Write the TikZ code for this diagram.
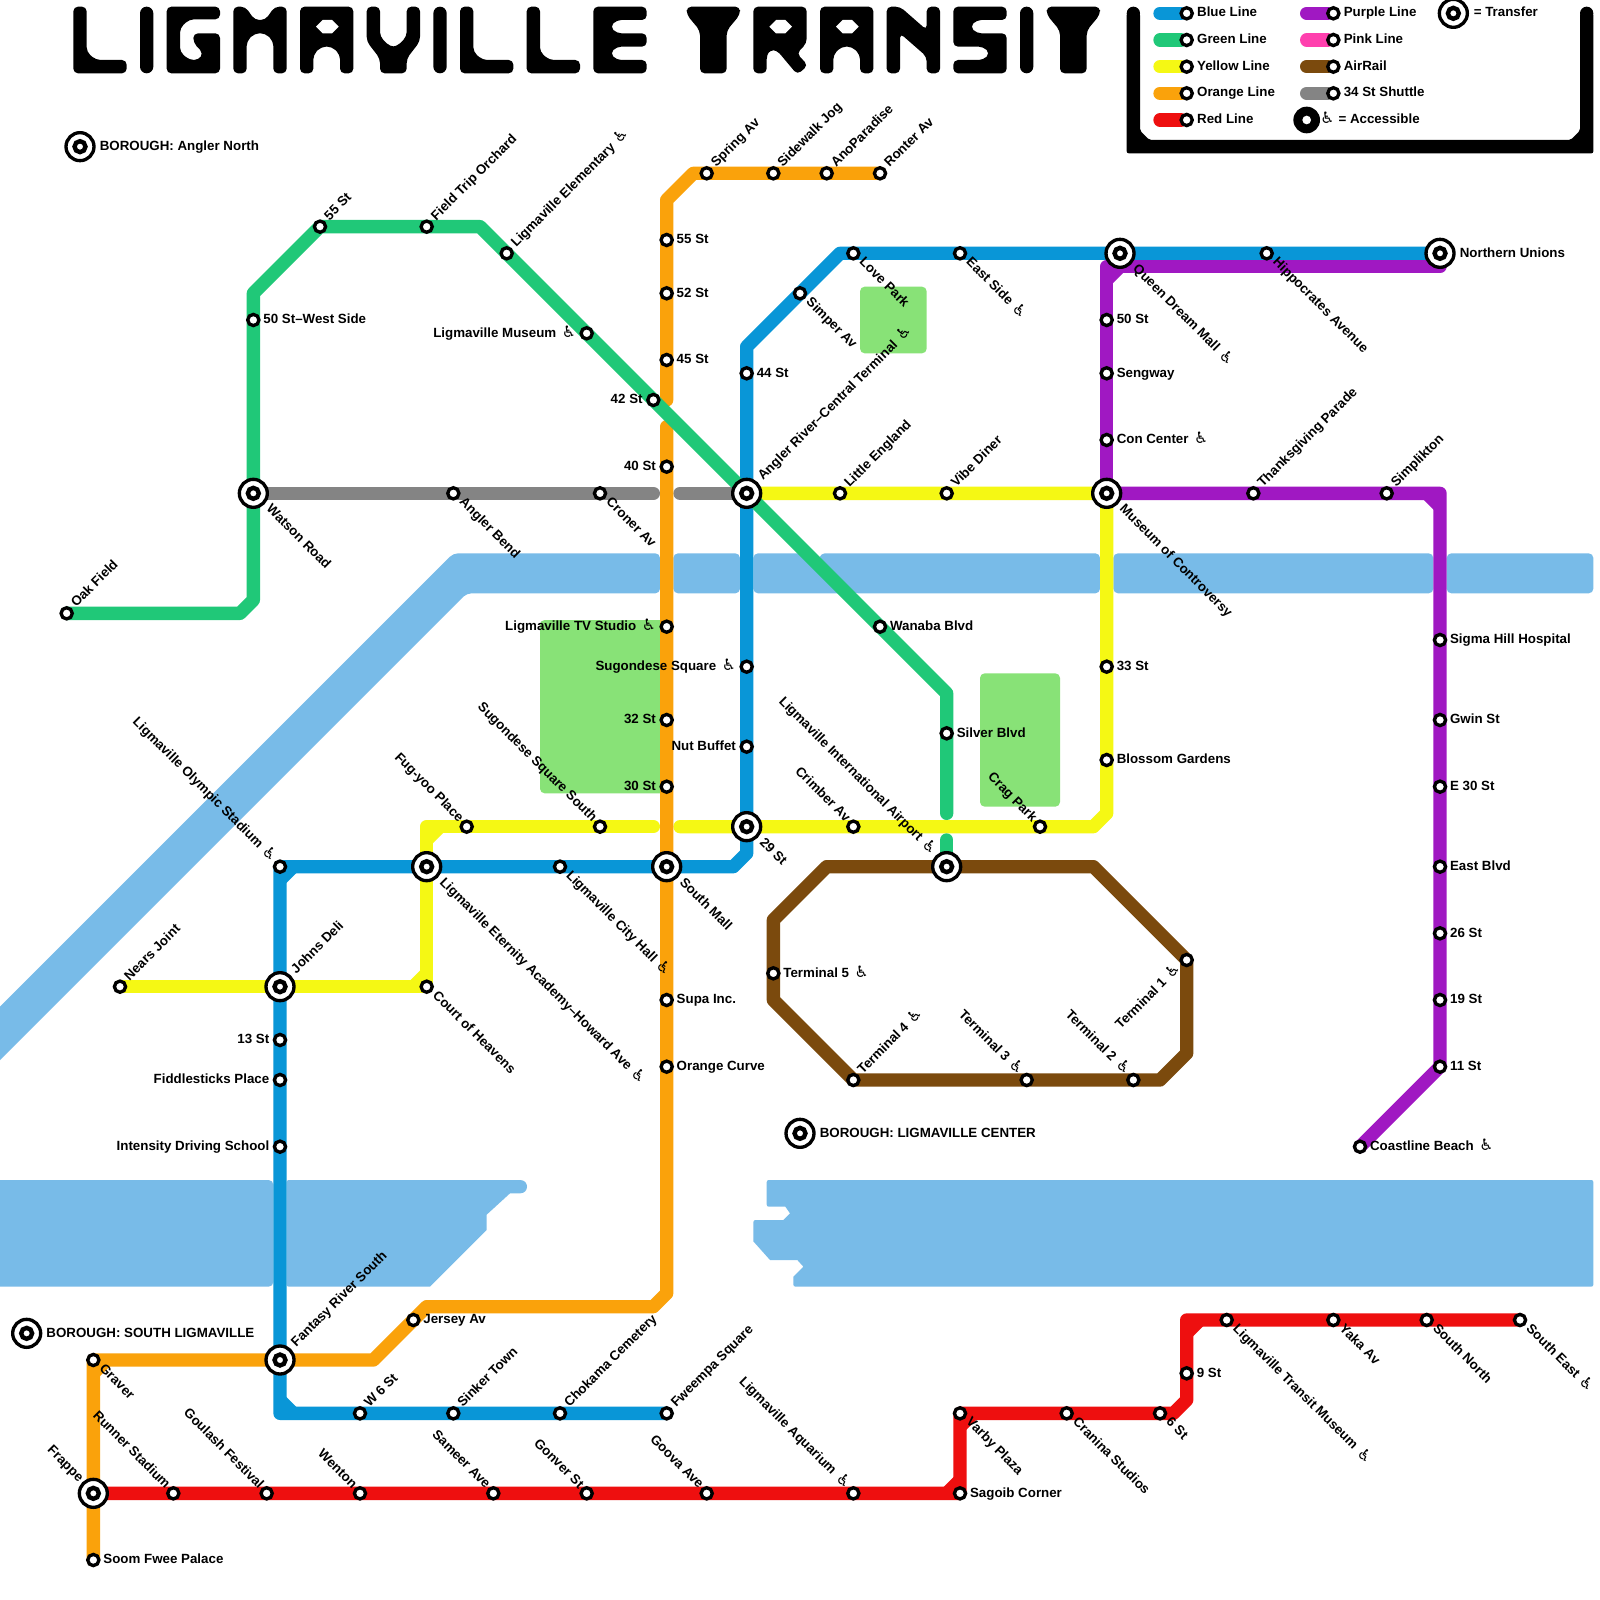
\documentclass[tikz,border=0pt]{standalone}
\usepackage{fontspec}
\setmainfont{Liberation Sans}
\newfontfamily\dvfont{DejaVu Sans}
\usetikzlibrary{calc}
\pgfdeclarelayer{under}\pgfdeclarelayer{rails}
\pgfsetlayers{under,rails,main}
\definecolor{cblue}{HTML}{0996D7}
\definecolor{cgreen}{HTML}{20C878}
\definecolor{cyellow}{HTML}{F5F814}
\definecolor{corange}{HTML}{FAA20B}
\definecolor{cred}{HTML}{EE0F0F}
\definecolor{cpurple}{HTML}{A018C2}
\definecolor{cpink}{HTML}{FF40AE}
\definecolor{cbrown}{HTML}{7B4A0D}
\definecolor{cgrey}{HTML}{848484}
\definecolor{cwater}{HTML}{78BBE8}
\definecolor{cpark}{HTML}{88E277}
\tikzset{
  rail/.style={line width=.2cm,line cap=round,line join=round},
  railb/.style={rail,cblue},railg/.style={rail,cgreen},raily/.style={rail,cyellow},
  railo/.style={rail,corange},railr/.style={rail,cred},railp/.style={rail,cpurple},
  railn/.style={rail,cbrown},railk/.style={rail,cgrey},railh/.style={rail,cpink},
  water/.style={fill=cwater,rounded corners=.07cm},
  waterplain/.style={fill=cwater},
  park/.style={fill=cpark,rounded corners=.07cm},
  ink/.style={fill=black,rounded corners=.07cm},
  hole/.style={fill=white},
  stopdot/.style={circle,draw=black,fill=white,line width=.05cm,minimum size=.168cm,inner sep=0pt,outer sep=0pt},
  trbig/.style={circle,draw=black,fill=white,line width=.05cm,minimum size=.42cm,inner sep=0pt,outer sep=0pt},
  trsmall/.style={circle,draw=black,fill=white,line width=.066cm,minimum size=.164cm,inner sep=0pt,outer sep=0pt},
  txt/.style={inner sep=0pt,font=\fontsize{5.69pt}{6.8pt}\selectfont\bfseries,text=black},
  R/.style={txt,shift={(0:#1)},xshift=-.01cm,yshift=.037cm,anchor=mid west},
  L/.style={txt,shift={(180:#1)},yshift=.037cm,anchor=mid east},
  UR/.style={txt,shift={(45:#1)},rotate=45,yshift=.05cm,anchor=mid west},
  DR/.style={txt,shift={(-45:#1)},rotate=-45,yshift=.05cm,anchor=mid west},
  UL/.style={txt,shift={(135:#1)},rotate=-45,yshift=.05cm,xshift=.03cm,anchor=mid east},
  DL/.style={txt,shift={(225:#1)},rotate=45,yshift=.05cm,anchor=mid east},
}
\newcommand\acc{\hspace{.42em}{\dvfont\bfseries\fontsize{6.7pt}{7pt}\selectfont ♿}}
\newcommand\mystop[5]{\node[stopdot] (#1) at (#2,#3) {}; \node[#4=.154cm] (#1-t) at (#1.center) {#5};}
\newcommand\mytrans[5]{\node[trbig] (#1) at (#2,#3) {}; \node[trsmall] (#1-i) at (#1.center) {}; \node[#4=.3cm] (#1-t) at (#1.center) {#5};}
\newcommand\inchamf[4]{\draw[#1,line cap=butt] ($(#2)!.2cm!(#3)$) -- ($(#2)!.2cm!(#4)$);}
\newcommand\glL[1]{\fill[ink,shift={(#1,.5)}] (0,0)--(1,0)--(1,3.4)--(1.7,4)--(4,4)--(4,5)--(0,5)--cycle;}
\newcommand\glI[1]{\fill[ink,rounded corners=.1cm,shift={(#1,.5)}] (0,0)--(1,0)--(1,5)--(0,5)--cycle;}
\newcommand\glG[1]{\fill[ink,shift={(#1,.5)}] (0,0)--(4,0)--(4,.95)--(1.7,.95)--(1,1.6)--(1,3.4)--(1.7,4)--(2.4,4)--(2.75,3.5)--(2,2.7)--(2,2)--(4,2)--(4,5)--(0,5)--cycle;}
\newcommand\glM[1]{\fill[ink,shift={(#1,.5)}] (0,0)--(.9,0)--(1.6,1)--(2.4,1)--(3.1,0)--(4,0)--(4,5)--(3,5)--(3,2.6)--(2.4,2)--(1.6,2)--(1,2.6)--(1,5)--(0,5)--cycle;}
\newcommand\glA[1]{\fill[ink,shift={(#1,.5)}] (0,0)--(4,0)--(4,5)--(3,5)--(3,3.6)--(2.4,3)--(1.6,3)--(1,3.6)--(1,5)--(0,5)--cycle;
  \fill[hole,shift={(#1,.5)}] (1.2,1.5)--(1.7,1)--(2.4,1)--(2.9,1.5)--(2.4,2)--(1.7,2)--cycle;}
\newcommand\glV[1]{\fill[ink,shift={(#1,.5)}] (0,0)--(1,0)--(1,2.25)--(1.75,3)--(2.25,3)--(3,2.25)--(3,0)--(4,0)--(4,2.6)--(3,3.9)--(3,5)--(1,5)--(1,3.9)--(0,2.6)--cycle;}
\newcommand\glE[1]{\fill[ink,shift={(#1,.5)}] (0,0)--(4,0)--(4,1)--(1.75,1)--(1.25,1.5)--(1.75,2)--(4,2)--(4,3)--(1.75,3)--(1.25,3.5)--(1.75,4)--(4,4)--(4,5)--(0,5)--cycle;}
\newcommand\glT[1]{\fill[ink,shift={(#1,.5)}] (0,0)--(4,0)--(4,.6)--(3,1.8)--(3,5)--(1,5)--(1,1.8)--(0,.6)--cycle;}
\newcommand\glR[1]{\fill[ink,shift={(#1,.5)}] (0,0)--(4,0)--(4,2.75)--(3.25,3.5)--(4.1,4.4)--(3.3,5.1)--(1.75,3.25)--(1.25,3.25)--(1,3.6)--(1,5)--(0,5)--cycle;
  \fill[hole,shift={(#1,.5)}] (1.2,1.5)--(1.7,1)--(2.4,1)--(2.9,1.5)--(2.4,2)--(1.7,2)--cycle;}
\newcommand\glN[1]{\fill[ink,shift={(#1,.5)}] (0,0)--(1,0)--(3,1.75)--(3,0)--(4,0)--(4,5)--(3,5)--(3,3.75)--(1,2)--(1,5)--(0,5)--cycle;}
\newcommand\glS[1]{\fill[ink,shift={(#1,.5)}] (0,0)--(4,0)--(4,1)--(1.75,1)--(1.25,1.5)--(1.75,2)--(4,2)--(4,5)--(0,5)--(0,4)--(2.25,4)--(2.75,3.5)--(2.25,3)--(0,3)--cycle;}
\begin{document}
\begin{tikzpicture}[x=.2cm,y=-.2cm]
\useasboundingbox (0,0) rectangle (120,120);
\begin{pgfonlayer}{under}
\fill[white] (0,0) rectangle (120,120);
% water
\fill[water] (-1,76.5)--(34,41.5)--(49.5,41.5)--(49.5,44.5)--(35,44.5)--(-1,80.5)--cycle;
\fill[water] (50.5,41.5) rectangle (55.5,44.5);
\fill[water] (56.5,41.5)--(60.5,41.5)--(63.5,44.5)--(56.5,44.5)--cycle;
\fill[water] (61.5,41.5)--(82.5,41.5)--(82.5,44.5)--(64,44.5)--(61.5,42)--cycle;
\fill[water] (83.5,41.5) rectangle (107.5,44.5);
\fill[water] (108.5,41.5) rectangle (119.5,44.5);
\fill[water] (-1,88.5) rectangle (20.5,96.5);
\fill[waterplain] (21.85,88.5)--(39,88.5) .. controls (39.7,88.5) and (39.7,89.5) .. (39,89.5)--(38.25,89.5)--(36.5,91.1)--(36.5,92.25)--(32.25,96.5)--(21.85,96.5) .. controls (21.5,96.5) .. (21.5,96.15)--(21.5,88.85) .. controls (21.5,88.5) .. (21.85,88.5)--cycle;
\fill[waterplain] (57.85,88.5)--(119.15,88.5) .. controls (119.5,88.5) .. (119.5,88.85)--(119.5,96.15) .. controls (119.5,96.5) .. (119.15,96.5)--(59.85,96.5) .. controls (59.5,96.5) .. (59.5,96.15)--(59.5,95.75)--(60.25,95)--(59.8,94.5)--(57.75,94.5)--(56.5,93.1)--(56.5,91.85) .. controls (56.5,91.5) .. (56.85,91.5)--(58.75,91.5)--(59.25,91)--(58.9,90.5)--(57.85,90.5) .. controls (57.5,90.5) .. (57.5,90.15)--(57.5,88.85) .. controls (57.5,88.5) .. (57.85,88.5)--cycle;
% parks
\fill[park] (64.5,21.5) rectangle (69.5,26.5);
\fill[park] (40.5,46.5) rectangle (50,59.5);
\fill[park] (73.5,50.5) rectangle (79.5,60.5);
\end{pgfonlayer}
% title
\glL{5.5}\glI{10.5}\glG{12.5}\glM{17.5}\glA{22.5}\glV{27.5}\glI{32.5}\glL{34.5}\glL{39.5}\glE{44.5}
\glT{51.5}\glR{56.5}\glA{61.5}\glN{66.5}\glS{71.5}\glI{76.5}\glT{78.5}
\node[text opacity=0,inner sep=0pt,font=\fontsize{36pt}{36pt}\selectfont\bfseries] (title) at (44,3) {LIGMAVILLE TRANSIT};
% legend frame
\fill[black,rounded corners=.03cm] (84.5,1)--(84.5,11.5)--(119.5,11.5)--(119.5,1)--(118.5,1)--(118.5,9.8)--(117.8,10.5)--(86.2,10.5)--(85.5,9.8)--(85.5,1)--cycle;
\fill[black] (85,1) circle[radius=.1cm] (119,1) circle[radius=.1cm];
% legend keys
\tikzset{keytxt/.style={txt,yshift=.04cm,anchor=mid west}}
\node[stopdot] (k1) at (89,1) {}; \coordinate (k1a) at (87,1); \node[keytxt] (k1t) at (89.75,1) {Blue Line};
\node[stopdot] (k2) at (89,3) {}; \coordinate (k2a) at (87,3); \node[keytxt] (k2t) at (89.75,3) {Green Line};
\node[stopdot] (k3) at (89,5) {}; \coordinate (k3a) at (87,5); \node[keytxt] (k3t) at (89.75,5) {Yellow Line};
\node[stopdot] (k4) at (89,7) {}; \coordinate (k4a) at (87,7); \node[keytxt] (k4t) at (89.75,7) {Orange Line};
\node[stopdot] (k5) at (89,9) {}; \coordinate (k5a) at (87,9); \node[keytxt] (k5t) at (89.75,9) {Red Line};
\node[stopdot] (k6) at (100,1) {}; \coordinate (k6a) at (98,1); \node[keytxt] (k6t) at (100.75,1) {Purple Line};
\node[stopdot] (k7) at (100,3) {}; \coordinate (k7a) at (98,3); \node[keytxt] (k7t) at (100.75,3) {Pink Line};
\node[stopdot] (k8) at (100,5) {}; \coordinate (k8a) at (98,5); \node[keytxt] (k8t) at (100.75,5) {AirRail};
\node[stopdot] (k9) at (100,7) {}; \coordinate (k9a) at (98,7); \node[keytxt] (k9t) at (100.75,7) {34 St Shuttle};
\node[trbig] (ktr) at (109,1) {}; \node[trsmall] (ktr2) at (ktr.center) {}; \node[keytxt] (ktrt) at (110.5,1) {= Transfer};
\node[circle,fill=black,minimum size=.4cm,inner sep=0pt,outer sep=0pt] (kac) at (98,9) {};
\node[circle,fill=white,minimum size=.13cm,inner sep=0pt,outer sep=0pt] (kac2) at (kac.center) {};
\node[keytxt] (kact) at (99,9) {{\dvfont\bfseries\fontsize{6.7pt}{7pt}\selectfont ♿}\hspace{.3em}= Accessible};
% boroughs
\node[trbig] (bo1) at (6,11) {}; \node[trsmall] (bo1i) at (bo1.center) {}; \node[R=.3cm] (bo1t) at (bo1.center) {BOROUGH: Angler North};
\node[trbig] (bo2) at (60,85) {}; \node[trsmall] (bo2i) at (bo2.center) {}; \node[R=.3cm] (bo2t) at (bo2.center) {BOROUGH: LIGMAVILLE CENTER};
\node[trbig] (bo3) at (2,100) {}; \node[trsmall] (bo3i) at (bo3.center) {}; \node[R=.3cm] (bo3t) at (bo3.center) {BOROUGH: SOUTH LIGMAVILLE};
% blue
\mytrans{northern}{108}{19}{R}{Northern Unions}
\mystop{hippo}{95}{19}{DR}{Hippocrates Avenue}
\mytrans{queen}{84}{19}{DR}{Queen Dream Mall\acc}
\mystop{eastside}{72}{19}{DR}{East Side\acc}
\mystop{lovepark}{64}{19}{DR}{Love Park}
\mystop{simper}{60}{22}{DR}{Simper Av}
\mystop{st44}{56}{28}{R}{44 St}
\mytrans{angler}{56}{37}{UR}{Angler River–Central Terminal\acc}
\mystop{sugon}{56}{50}{L}{Sugondese Square\acc}
\mystop{nut}{56}{56}{L}{Nut Buffet}
\mytrans{st29}{56}{62}{DR}{29 St}
\mytrans{south}{50}{65}{DR}{South Mall}
\mystop{cityhall}{42}{65}{DR}{Ligmaville City Hall\acc}
\mytrans{eternity}{32}{65}{DR}{Ligmaville Eternity Academy–Howard Ave\acc}
\mystop{olympic}{21}{65}{UL}{Ligmaville Olympic Stadium\acc}
\mytrans{johns}{21}{74}{UR}{Johns Deli}
\mystop{st13}{21}{78}{L}{13 St}
\mystop{fiddle}{21}{81}{L}{Fiddlesticks Place}
\mystop{intensity}{21}{86}{L}{Intensity Driving School}
\mytrans{fantasy}{21}{102}{UR}{Fantasy River South}
\mystop{w6}{27}{106}{UR}{W 6 St}
\mystop{sinker}{34}{106}{UR}{Sinker Town}
\mystop{chokama}{42}{106}{UR}{Chokama Cemetery}
\mystop{fweempa}{50}{106}{UR}{Fweempa Square}
% green
\mystop{oak}{5}{46}{UR}{Oak Field}
\mytrans{watson}{19}{37}{DR}{Watson Road}
\mystop{westside}{19}{24}{R}{50 St–West Side}
\mystop{st55w}{24}{17}{UR}{55 St}
\mystop{orchard}{32}{17}{UR}{Field Trip Orchard}
\mystop{element}{38}{19}{UR}{Ligmaville Elementary\acc}
\mystop{museum}{44}{25}{L}{Ligmaville Museum\acc}
\mystop{st42}{49}{30}{L}{42 St}
\mystop{wanaba}{66}{47}{R}{Wanaba Blvd}
\mystop{silver}{71}{55}{R}{Silver Blvd}
\mytrans{airport}{71}{65}{UL}{Ligmaville International Airport\acc}
% yellow
\mystop{nears}{9}{74}{UR}{Nears Joint}
\mystop{heavens}{32}{74}{DR}{Court of Heavens}
\mystop{fugyoo}{35}{62}{UL}{Fug-yoo Place}
\mystop{sugsouth}{45}{62}{UL}{Sugondese Square South}
\mystop{crimber}{64}{62}{UL}{Crimber Av}
\mystop{crag}{78}{62}{UL}{Crag Park}
\mystop{blossom}{83}{57}{R}{Blossom Gardens}
\mystop{st33}{83}{50}{R}{33 St}
\mytrans{controversy}{83}{37}{DR}{Museum of Controversy}
\mystop{vibe}{71}{37}{UR}{Vibe Diner}
\mystop{england}{63}{37}{UR}{Little England}
% orange
\mystop{spring}{53}{13}{UR}{Spring Av}
\mystop{sidewalk}{58}{13}{UR}{Sidewalk Jog}
\mystop{ano}{62}{13}{UR}{AnoParadise}
\mystop{ronter}{66}{13}{UR}{Ronter Av}
\mystop{st55}{50}{18}{R}{55 St}
\mystop{st52}{50}{22}{R}{52 St}
\mystop{st45}{50}{27}{R}{45 St}
\mystop{st40}{50}{35}{L}{40 St}
\mystop{studio}{50}{47}{L}{Ligmaville TV Studio\acc}
\mystop{st32}{50}{54}{L}{32 St}
\mystop{st30}{50}{59}{L}{30 St}
\mystop{supa}{50}{75}{R}{Supa Inc.}
\mystop{curve}{50}{80}{R}{Orange Curve}
\mystop{jersey}{31}{99}{R}{Jersey Av}
\mystop{graver}{7}{102}{DR}{Graver}
\mystop{soom}{7}{117}{R}{Soom Fwee Palace}
% red
\mytrans{frappe}{7}{112}{UL}{Frappe}
\mystop{runner}{13}{112}{UL}{Runner Stadium}
\mystop{goulash}{20}{112}{UL}{Goulash Festival}
\mystop{wenton}{27}{112}{UL}{Wenton}
\mystop{sameer}{37}{112}{UL}{Sameer Ave}
\mystop{gonver}{44}{112}{UL}{Gonver St}
\mystop{goova}{53}{112}{UL}{Goova Ave}
\mystop{aquarium}{64}{112}{UL}{Ligmaville Aquarium\acc}
\mystop{sagoib}{72}{112}{R}{Sagoib Corner}
\mystop{varby}{72}{106}{DR}{Varby Plaza}
\mystop{cranina}{80}{106}{DR}{Cranina Studios}
\mystop{st6}{87}{106}{DR}{6 St}
\mystop{st9}{89}{103}{R}{9 St}
\mystop{transit}{92}{99}{DR}{Ligmaville Transit Museum\acc}
\mystop{yaka}{100}{99}{DR}{Yaka Av}
\mystop{southnorth}{107}{99}{DR}{South North}
\mystop{southeast}{114}{99}{DR}{South East\acc}
% purple
\mystop{st50}{83}{24}{R}{50 St}
\mystop{sengway}{83}{28}{R}{Sengway}
\mystop{concenter}{83}{33}{R}{Con Center\acc}
\mystop{thanks}{94}{37}{UR}{Thanksgiving Parade}
\mystop{simplik}{104}{37}{UR}{Simplikton}
\mystop{sigma}{108}{48}{R}{Sigma Hill Hospital}
\mystop{gwin}{108}{54}{R}{Gwin St}
\mystop{e30}{108}{59}{R}{E 30 St}
\mystop{eastblvd}{108}{65}{R}{East Blvd}
\mystop{st26}{108}{70}{R}{26 St}
\mystop{st19}{108}{75}{R}{19 St}
\mystop{st11}{108}{80}{R}{11 St}
\mystop{coast}{102}{86}{R}{Coastline Beach\acc}
% shuttle
\mystop{bend}{34}{37}{DR}{Angler Bend}
\mystop{croner}{45}{37}{DR}{Croner Av}
% airrail
\mystop{t5}{58}{73}{R}{Terminal 5\acc}
\mystop{t4}{64}{81}{UR}{Terminal 4\acc}
\mystop{t3}{77}{81}{UL}{Terminal 3\acc}
\mystop{t2}{85}{81}{UL}{Terminal 2\acc}
\mystop{t1}{89}{72}{DL}{Terminal 1\acc}
% bends
\foreach \n/\x/\y in {bb1/63/19,bb2/56/26,bb3/56/64,bb4/55/65,bb5/21/106,
 gb1/18/46,gb2/19/45,gb3/19/22,gb4/36/17,gb5/71/52,gb6/71/61,gb7/71/63,
 yb1/32/62,yb2/49/62,yb3/51/62,yb4/82/62,yb5/83/61,
 ob1/52/13,ob2/50/15,ob3/50/30,ob4/50/32,ob5/50/97,ob6/49/98,ob7/32/98,ob8/28/102,
 rb3/88/106,rb4/89/105,rb5/89/99,
 pb1/108/20,pb2/83/20,pb3/108/37,
 kb1/49/37,kb2/51/37,
 ab1/62/65,ab2/82/65,ab3/89/79,ab4/87/81,ab5/58/75,ab6/58/69}
  {\coordinate (\n) at (\x,\y);}
\begin{pgfonlayer}{rails}
\draw[railk] (watson.center) -- (kb1);
\draw[railk] (kb2) -- (angler.center);
\draw[railn] (ab1) -- (ab2) -- (t1.center) -- (ab3) -- (ab4) -- (t4.center) -- (ab5) -- (ab6) -- cycle;
\draw[railb] (northern.center) -- (bb1) -- (bb2) -- (bb3) -- (bb4) -- (olympic.center) -- (bb5) -- (fweempa.center);
\inchamf{railb}{olympic.center}{bb4}{bb5}
\inchamf{railb}{bb5}{olympic.center}{fweempa.center}
\draw[railp] (pb1) -- (pb2) -- (controversy.center);
\inchamf{railp}{pb2}{pb1}{controversy.center}
\draw[railp] (controversy.center) -- (pb3) -- (st11.center) -- (coast.center);
\inchamf{railp}{pb3}{controversy.center}{st11.center}
\draw[railr] (frappe.center) -- (sagoib.center) -- (varby.center) -- (rb3) -- (rb4) -- (rb5) -- (southeast.center);
\inchamf{railr}{sagoib.center}{frappe.center}{varby.center}
\inchamf{railr}{varby.center}{sagoib.center}{rb3}
\inchamf{railr}{rb5}{rb4}{southeast.center}
\draw[raily] (nears.center) -- (heavens.center) -- (yb1) -- (yb2);
\inchamf{raily}{heavens.center}{nears.center}{yb1}
\inchamf{raily}{yb1}{heavens.center}{yb2}
\draw[raily] (yb3) -- (yb4) -- (yb5) -- (controversy.center) -- (angler.center);
\draw[railo] (ronter.center) -- (ob1) -- (ob2) -- (ob3);
\draw[railo] (ob4) -- (ob5) -- (ob6) -- (ob7) -- (ob8) -- (graver.center) -- (soom.center);
\inchamf{railo}{graver.center}{ob8}{soom.center}
\draw[railg] (oak.center) -- (gb1) -- (gb2) -- (gb3) -- (st55w.center) -- (gb4) -- (gb5) -- (gb6);
\draw[railg] (gb7) -- (airport.center);
\draw[railb] (k1a) -- (k1);
\draw[railg] (k2a) -- (k2);
\draw[raily] (k3a) -- (k3);
\draw[railo] (k4a) -- (k4);
\draw[railr] (k5a) -- (k5);
\draw[railp] (k6a) -- (k6);
\draw[railh] (k7a) -- (k7);
\draw[railn] (k8a) -- (k8);
\draw[railk] (k9a) -- (k9);
\end{pgfonlayer}
\end{tikzpicture}
\end{document}
